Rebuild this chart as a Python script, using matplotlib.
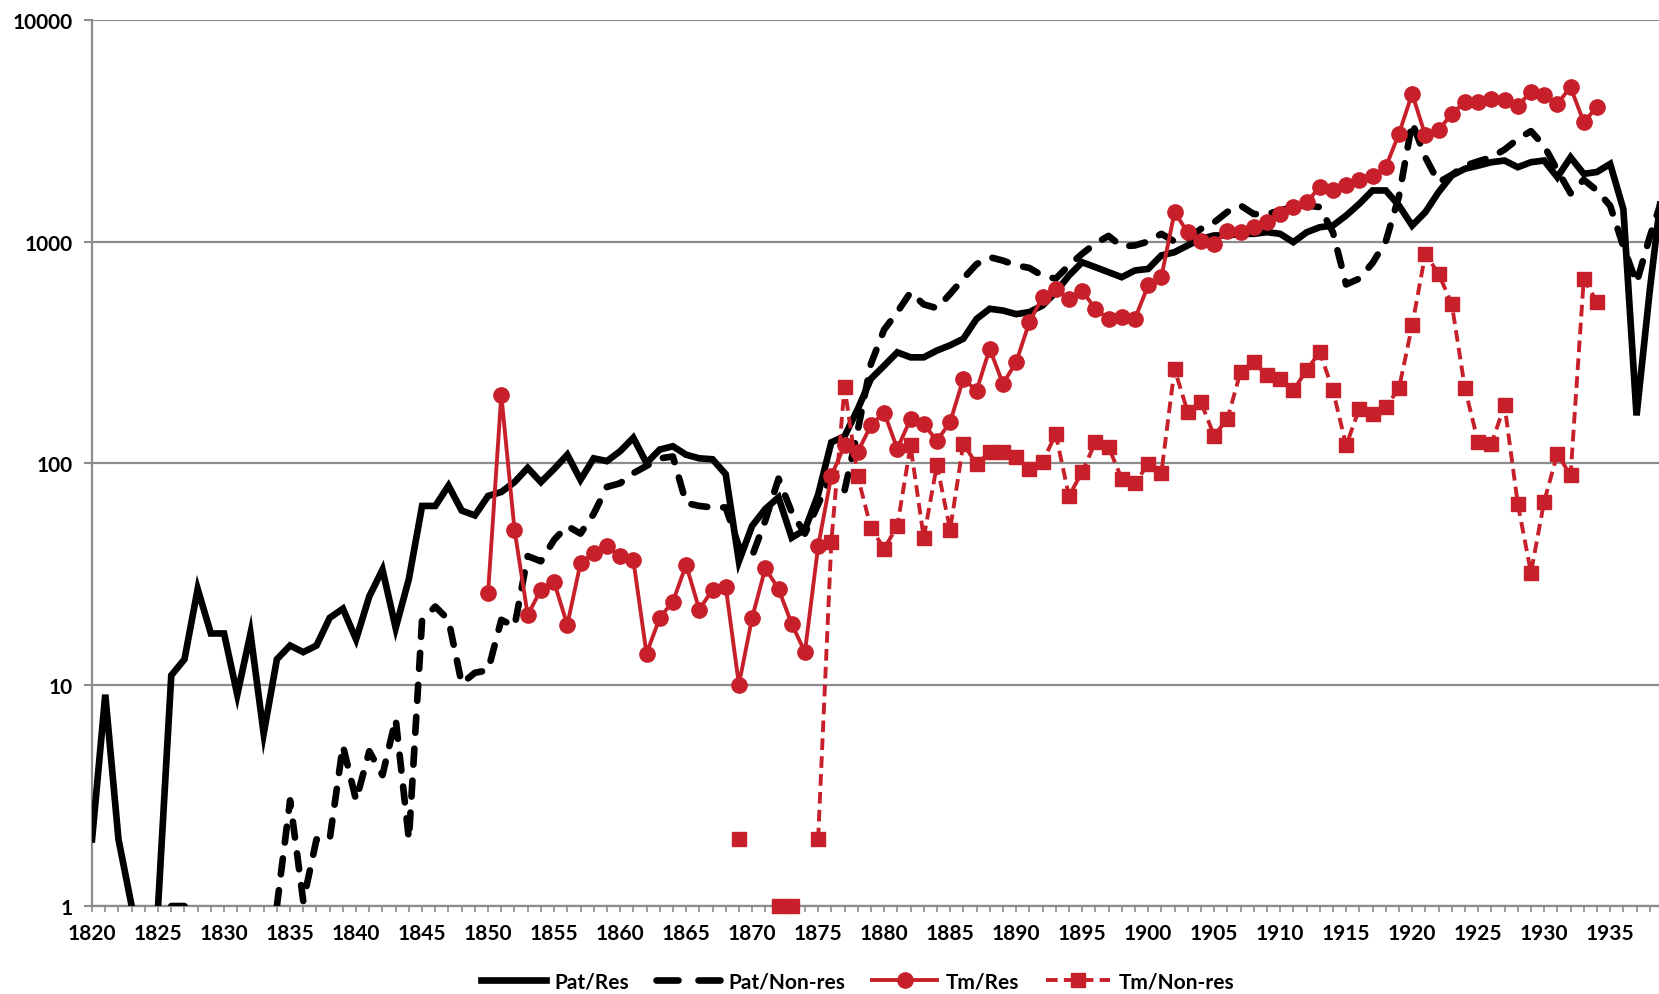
import numpy as np
import matplotlib.pyplot as plt
from matplotlib.lines import Line2D
from matplotlib.ticker import FixedLocator, MultipleLocator, NullFormatter, FixedFormatter

plt.rcParams["font.family"] = ["Lato", "DejaVu Sans"]
plt.rcParams["font.weight"] = "bold"

RED = "#c8202b"
GREY = "#8c8c8c"

years = list(range(1820, 1940))
pat_res = [
    2, 9, 2, 1, None, 1, 11, 13, 27, 17,
    17, 9, 17, 6, 13, 15, 14, 15, 20, 22,
    16, 25, 33, 18, 30, 64, 64, 79, 61, 58,
    71, 74, 82, 95, 82, 94, 109, 84, 105, 102,
    113, 130, 100, 115, 119, 109, 105, 104, 89, 36,
    52, 62, 70, 46, 50, 72, 124, 132, 175, 240,
    275, 316, 300, 300, 322, 340, 364, 447, 497, 488,
    470, 480, 514, 590, 702, 806, 766, 727, 690, 740,
    752, 865, 895, 960, 1028, 1065, 1065, 1083, 1083, 1102,
    1083, 993, 1100, 1160, 1180, 1310, 1480, 1700, 1700, 1454,
    1180, 1357, 1670, 1986, 2130, 2200, 2280, 2320, 2165, 2280,
    2320, 1950, 2400, 2020, 2060, 2240, 1400, 164, 600, 1900,
]
pat_nonres = [
    None, None, None, None, None, None, 1, 1, None, None,
    None, None, None, None, 1, 3, 1.05, 2, 2, 5.3,
    3, 5, 3.9, 7, 2, 19.6, 22.5, 19.6, 10.1, 11.3,
    11.6, 19.6, 18.3, 38, 36, 45, 52, 48, 59, 78,
    81, 90, 97, 105, 107, 66, 64, 63, 63, 42,
    38, 55, 85, 60, 48, 65, 88, 75, 140, 280,
    400, 480, 590, 520, 500, 580, 680, 790, 850, 820,
    780, 760, 700, 680, 780, 880, 980, 1060, 950, 960,
    1000, 1083, 1000, 1030, 1140, 1220, 1360, 1455, 1330, 1330,
    1380, 1430, 1455, 1430, 1100, 640, 680, 800, 1000, 1600,
    3450, 2400, 1850, 2000, 2200, 2300, 2400, 2600, 2900, 3150,
    2700, 2100, 1650, 1900, 1700, 1450, 950, 650, 1050, 1600,
]

tm_res_years = list(range(1850, 1935))
tm_res = [
    26, 203, 50, 20.6, 26.8, 29, 18.6, 35.3, 39.2, 42,
    38, 36.6, 13.8, 20, 23.7, 34.7, 21.8, 26.8, 27.7, 10,
    20, 33.5, 27, 18.8, 14, 42, 87.5, 120, 112, 148,
    169, 116, 158, 150, 126, 153, 240, 212, 328, 228,
    285, 432, 561, 611, 551, 600, 496, 448, 455, 448,
    633, 690, 1357, 1100, 1010, 976, 1121, 1100, 1160, 1222,
    1333, 1428, 1505, 1760, 1700, 1790, 1887, 1986, 2167, 3066,
    4646, 3013, 3174, 3775, 4256, 4256, 4410, 4335, 4110, 4725,
    4570, 4180, 4980, 3460, 4050,
]

tm_nonres_years = list(range(1869, 1935))
tm_nonres = [
    2,
    None, None, 1, 1, None, 2, 44, 220, 87, 51,
    41, 52, 120, 46, 98, 50, 122, 99, 112, 112,
    106, 94, 101, 135, 71, 91, 124, 118, 85, 81,
    99, 90, 266, 170, 188, 133, 158, 257, 286, 249,
    240, 213, 262, 317, 213, 120, 176, 167, 179, 217,
    418, 880, 715, 523, 217, 124, 122, 182, 65.6, 32,
    67, 110, 88, 678, 533,
]

y_ticks = [1, 10, 100, 1000, 10000]
x_labels = list(range(1820, 1940, 5))

fig = plt.figure(figsize=(16.59, 9.95), dpi=100)
ax = fig.add_axes([0.0555, 0.0884, 0.9445, 0.8905])

l1, = ax.plot(years, np.array(pat_res, dtype=float), color="black", lw=4.8,
              solid_joinstyle="miter", label="Pat/Res", zorder=3)
ax.plot(years, np.array(pat_nonres, dtype=float), color="black", lw=4.8,
        linestyle=(0, (2.4, 2.4)), dash_capstyle="round", zorder=3)
l3, = ax.plot(tm_res_years, np.array(tm_res, dtype=float), color=RED, lw=2.8,
              marker="o", markersize=11, label="Tm/Res", zorder=4, clip_on=False)
l4, = ax.plot(tm_nonres_years, np.array(tm_nonres, dtype=float), color=RED, lw=2.8,
              linestyle=(0, (3.0, 1.6)), marker="s", markersize=10.5, label="Tm/Non-res",
              zorder=4, clip_on=False)

# legend entry for the dashed black line: two clean dashes like the original
l2 = Line2D([], [], color="black", lw=4.8, linestyle=(0, (3.3, 3.0)),
            dash_capstyle="round")

ax.set_yscale("log")
ax.set_ylim(1, 10000)
ax.set_xlim(1820, 1938.7)

ax.yaxis.set_major_locator(FixedLocator(y_ticks))
ax.yaxis.set_major_formatter(FixedFormatter([str(v) for v in y_ticks]))
ax.yaxis.set_minor_locator(FixedLocator([]))
ax.xaxis.set_major_locator(FixedLocator(x_labels))
ax.xaxis.set_major_formatter(FixedFormatter([str(v) for v in x_labels]))
ax.xaxis.set_minor_locator(MultipleLocator(1))
ax.xaxis.set_minor_formatter(NullFormatter())

ax.grid(axis="y", which="major", color=GREY, lw=1.6, zorder=0)
ax.set_axisbelow(True)
for side in ["top", "right"]:
    ax.spines[side].set_visible(False)
for side in ["left", "bottom"]:
    ax.spines[side].set_color(GREY)
    ax.spines[side].set_linewidth(1.6)

ax.tick_params(axis="y", which="major", direction="out", length=6, width=1.5,
               color=GREY, pad=8, labelsize=15)
ax.tick_params(axis="x", which="both", direction="out", length=4.5, width=1.2,
               color=GREY, pad=8, labelsize=15)

fig.legend([l1, l2, l3, l4], ["Pat/Res", "Pat/Non-res", "Tm/Res", "Tm/Non-res"],
           loc="center", bbox_to_anchor=(0.517, 0.013), ncol=4, frameon=False,
           fontsize=15, handlelength=3.1, handletextpad=0.4, columnspacing=1.3,
           numpoints=1)

fig.savefig("out.png", dpi=100)
